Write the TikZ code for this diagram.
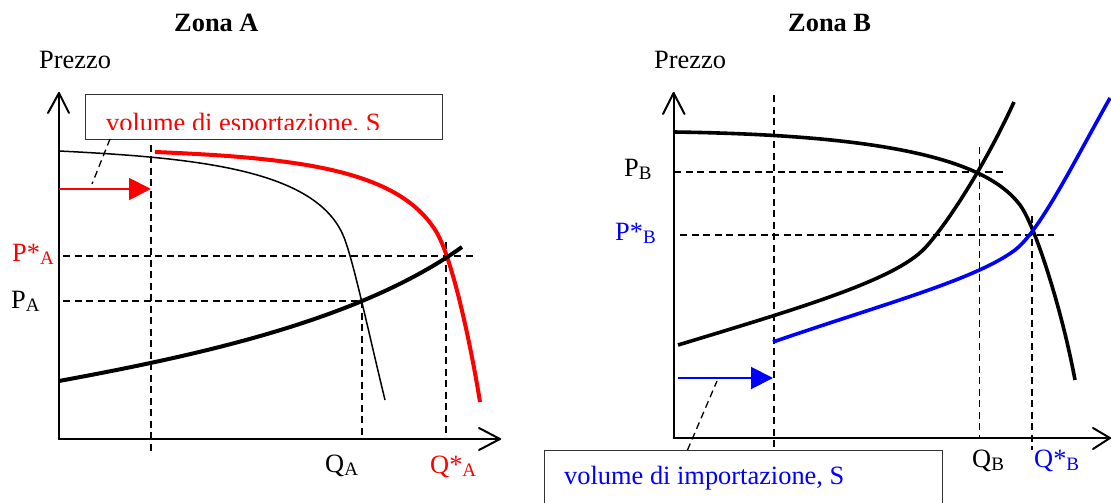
\documentclass[tikz,border=0pt]{standalone}
\usepackage{fontspec}
\setmainfont{Liberation Serif}
\usetikzlibrary{arrows.meta}
\definecolor{myred}{RGB}{255,0,0}
\definecolor{myblue}{RGB}{0,0,255}
\newcommand\sbs[1]{\raisebox{-3pt}{\fontsize{19}{19}\selectfont #1}}
\tikzset{
  lbl/.style={anchor=base west, inner sep=0pt, font=\fontsize{26.4}{30}\selectfont},
  axisline/.style={line width=2pt, line join=round, line cap=round},
  dashline/.style={line width=1.3pt, dash pattern=on 7pt off 4.5pt},
  thincurve/.style={line width=1.5pt},
  thickcurve/.style={line width=4pt},
  medcurve/.style={line width=3.6pt},
  boxline/.style={line width=1pt, draw=black!80},
  volarrow/.style={line width=2pt, -{Triangle[length=22pt,width=22pt]}},
}
\begin{document}
\begin{tikzpicture}[x=1pt,y=-1pt]
\clip (0,0) rectangle (1111,503);
\useasboundingbox (0,0) rectangle (1111,503);

% ---------------- Zona A ----------------
\node[lbl, font=\fontsize{26.4}{30}\selectfont\bfseries] (tA) at (174,32) {Zona A};
\node[lbl] (prA) at (39,68) {Prezzo};

% axes
\coordinate (oA) at (59,439);
\coordinate (yA) at (59,93);
\coordinate (xA) at (500,439);
\draw[axisline] (oA) -- (yA);
\draw[axisline] (oA) -- (xA);
\draw[axisline] (48,113) -- (yA) -- (69,113);
\draw[axisline] (479,428) -- (xA) -- (479,450);

% dashed guides
\draw[dashline] (151,133) -- (151,452);
\draw[dashline] (63,256) -- (477,256);
\draw[dashline] (63,301) -- (362,301);
\draw[dashline] (362,301) -- (362,439);
\draw[dashline] (446,242) -- (446,439);

% curves
\draw[thincurve] (59,151) .. controls (200,158) and (320,170) .. (345,240)
                 .. controls (355,268) and (368,330) .. (385,400);
\draw[thickcurve, myred] (155,152) .. controls (300,158) and (400,170) .. (437,233)
                 .. controls (452,259) and (470,340) .. (480,402);
\draw[thickcurve] (59,381) .. controls (200,355) and (360,320) .. (462,247);

% export arrow
\coordinate (eA0) at (59,189);
\coordinate (eA1) at (151,189);
\draw[volarrow, myred] (eA0) -- (eA1);

% box with clipped text
\node[draw, boxline, fill=white, minimum width=357pt, minimum height=45pt, inner sep=0pt, anchor=north west] (boxA) at (85,94) {};
\begin{scope}
  \clip (86,95) rectangle (441,129.5);
  \node[lbl, text=myred] (txtA) at (106,131) {volume di esportazione, S};
\end{scope}
\coordinate (ldA) at (92,184);
\draw[dashline] (110,139) -- (ldA);

% labels
\node[lbl, text=myred] (psA) at (12,261) {P*\sbs{A}};
\node[lbl] (pA) at (11,308) {P\sbs{A}};
\node[lbl] (qA) at (325,472) {Q\sbs{A}};
\node[lbl, text=myred] (qsA) at (430,473) {Q*\sbs{A}};

% ---------------- Zona B ----------------
\node[lbl, font=\fontsize{26.4}{30}\selectfont\bfseries] (tB) at (788,32) {Zona B};
\node[lbl] (prB) at (654,68) {Prezzo};

\coordinate (oB) at (673.6,438);
\coordinate (yB) at (673.6,93);
\coordinate (xB) at (1110,438);
\draw[axisline] (oB) -- (yB);
\draw[axisline] (oB) -- (xB);
\draw[axisline] (663,114) -- (yB) -- (684.5,114);
\draw[axisline] (1093,428) -- (xB) -- (1093,449);

% dashed guides
\draw[dashline] (774,95) -- (774,453);
\draw[dashline] (674,172) -- (1004,172);
\draw[dashline] (680,235) -- (1054,235);
\draw[dashline] (979.5,147) -- (979.5,438);
\draw[dashline] (1032,216) -- (1032,450);

% curves
\draw[medcurve] (674,132) .. controls (880,135) and (985,158) .. (1020,205)
                .. controls (1035,225) and (1062,310) .. (1075,380);
\draw[medcurve] (678,345) .. controls (800,308) and (895,280) .. (925,248)
                .. controls (948,223) and (985,165) .. (1014,102);
\draw[medcurve, myblue] (773,342) .. controls (880,305) and (975,280) .. (1015,250)
                .. controls (1040,231) and (1075,160) .. (1110,98);

% import arrow
\coordinate (iB0) at (678,378);
\coordinate (iB1) at (773,378);
\draw[volarrow, myblue] (iB0) -- (iB1);

% box
\node[draw, boxline, fill=white, minimum width=398pt, minimum height=80pt, inner sep=0pt, anchor=north west] (boxB) at (544,450) {};
\node[lbl, text=myblue] (txtB) at (564,484) {volume di importazione, S};
\coordinate (ldB) at (717,381);
\draw[dashline] (687.5,450) -- (ldB);

% labels
\node[lbl] (pB) at (624,176) {P\sbs{B}};
\node[lbl, text=myblue] (psB) at (615,240) {P*\sbs{B}};
\node[lbl] (qB) at (972,467) {Q\sbs{B}};
\node[lbl, text=myblue] (qsB) at (1034,467) {Q*\sbs{B}};
\end{tikzpicture}
\end{document}
